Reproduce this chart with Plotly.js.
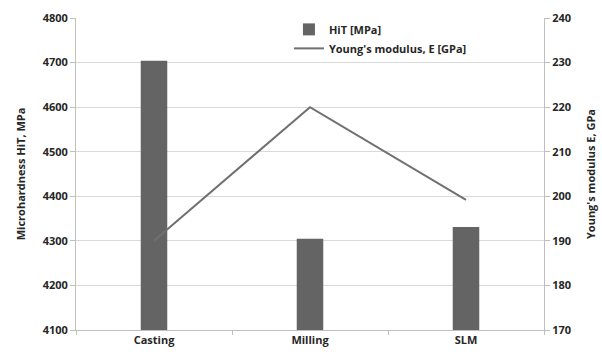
<!DOCTYPE html>
<html><head><meta charset="utf-8">
<script src="https://cdn.plot.ly/plotly-3.0.1.min.js"></script>
<style>html,body{margin:0;padding:0;background:#fff}#c{width:602px;height:357px}</style>
</head><body><div id="c"></div>
<script>
const categories = ["Casting", "Milling", "SLM"];
const hitValues = [4704, 4305, 4331];
const youngValues = [190, 220, 199.2];
const hitName = "HiT [MPa]";
const youngName = "Young's modulus, E [GPa]";

const fam = "'Open Sans', sans-serif";
const bf = {family: fam, size: 11, color: "#262626", weight: 700};
const traces = [
  {type: "bar", x: categories, y: hitValues, name: hitName, marker: {color: "#646464"}, width: 0.17, yaxis: "y"},
  {type: "scatter", mode: "lines", x: categories, y: youngValues, name: youngName, line: {color: "#707070", width: 2}, yaxis: "y2"}
];
const layout = {
  width: 602, height: 357,
  margin: {l: 76, r: 58, t: 18, b: 27},
  paper_bgcolor: "#fff", plot_bgcolor: "#fff",
  font: bf,
  showlegend: true,
  legend: {x: 0.455, y: 1.01, xanchor: "left", yanchor: "top", bgcolor: "rgba(0,0,0,0)", font: bf, itemwidth: 30},
  xaxis: {type: "category", showgrid: false, showline: true, linecolor: "#bfbfbf", linewidth: 1,
    ticks: "outside", tickson: "boundaries", ticklen: 4, tickcolor: "#bfbfbf",
    tickfont: bf, range: [-0.5, 2.5]},
  yaxis: {range: [4100, 4800], dtick: 100, showgrid: true, gridcolor: "#d9d9d9", gridwidth: 1,
    showline: true, linecolor: "#bfbfbf", ticks: "outside", ticklen: 5, tickcolor: "#bfbfbf", zeroline: false,
    tickfont: bf,
    title: {text: "Microhardness HiT, MPa", font: bf, standoff: 14}},
  yaxis2: {overlaying: "y", side: "right", range: [170, 240], dtick: 10, showgrid: false,
    showline: true, linecolor: "#bfbfbf", ticks: "outside", ticklen: 5, tickcolor: "#bfbfbf", zeroline: false,
    tickfont: bf,
    title: {text: "Young's modulus E, GPa", font: bf, standoff: 17}}
};
Plotly.newPlot("c", traces, layout, {displayModeBar: false, staticPlot: true});
</script></body></html>
